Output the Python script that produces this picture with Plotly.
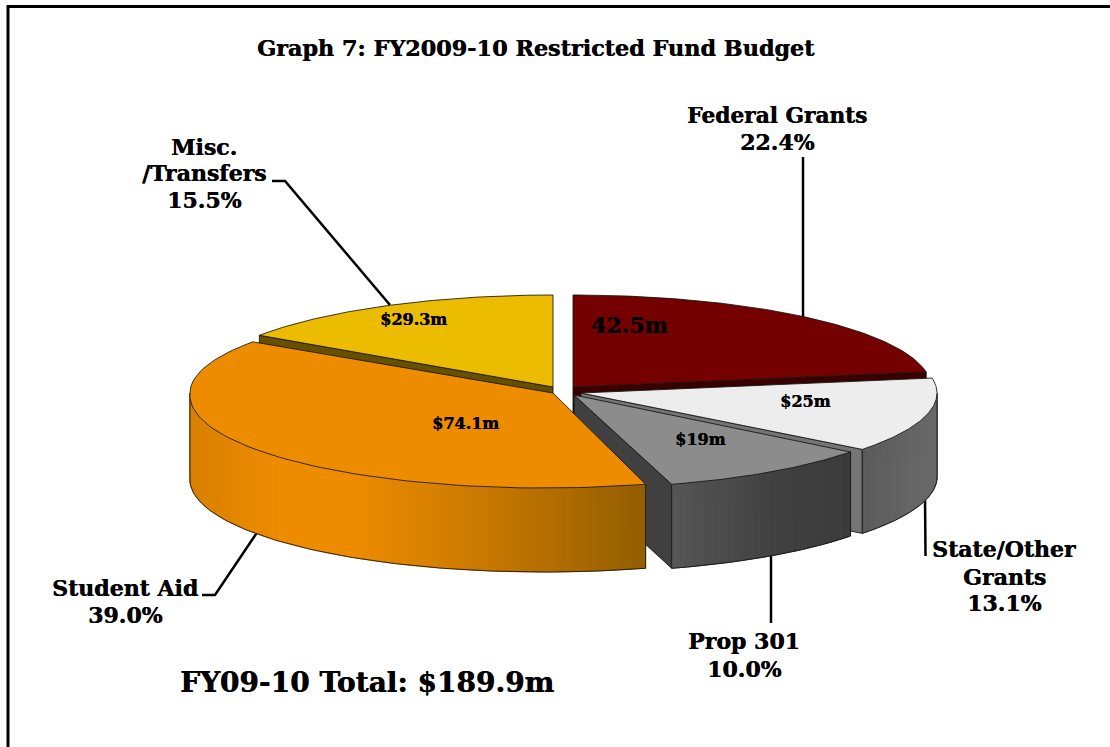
import math
import plotly.graph_objects as go

# ---- data ----
categories = ["Federal Grants", "State/Other Grants", "Prop 301", "Student Aid", "Misc. /Transfers"]
percent_values = [22.4, 13.1, 10.0, 39.0, 15.5]
amount_labels = ["42.5m", "$25m", "$19m", "$74.1m", "$29.3m"]
total_label = "FY09-10 Total: $189.9m"
chart_title = "Graph 7: FY2009-10 Restricted Fund Budget"

# ---- style / geometry of the projected pie ----
apex_x = [573, 581, 574, 553, 553]
apex_y = [387, 393, 395, 393, 387]
radius_x = [358, 356, 350, 363, 355]
radius_back = [92, 92, 93, 91, 92]
radius_front = [92, 92, 93, 95, 92]
shear = [0, 0, 0, 9, 0]
DEPTH = 84
top_color = ["#750000", "#ededed", "#8c8c8c", "#ee8c00", "#ecbc00"]
cut_color = ["#3a0000", "#757575", "#404040", "#a86200", "#665000"]
side_stops = [
    [(0, (0x6a, 0, 0)), (1, (0x50, 0, 0))],
    [(0, (0x5c, 0x5c, 0x5c)), (1, (0x6a, 0x6a, 0x6a))],
    [(0, (0x56, 0x56, 0x56)), (0.6, (0x40, 0x40, 0x40)), (1, (0x3c, 0x3c, 0x3c))],
    [(0, (0xd8, 0x80, 0x00)), (0.2, (0xee, 0x8c, 0x00)), (0.35, (0xee, 0x8c, 0x00)),
     (0.65, (0xc8, 0x78, 0x00)), (1, (0x92, 0x5e, 0x00))],
    [(0, (0x66, 0x50, 0)), (1, (0x66, 0x50, 0))],
]
EDGE = "rgba(20,20,20,0.85)"

total = sum(percent_values)
angles = [0.0]
for v in percent_values:
    angles.append(angles[-1] + v / total * 360.0)


def project(i, deg):
    """Map a rim angle (clockwise from 12 o'clock) of slice i to the page plane."""
    a = math.radians(deg)
    u, v = math.sin(a), -math.cos(a)
    ry = radius_front[i] if v > 0 else radius_back[i]
    return apex_x[i] + radius_x[i] * u - shear[i] * max(v, 0), apex_y[i] + ry * v


def rim(i, a0, a1, n=90):
    return [project(i, a0 + (a1 - a0) * k / n) for k in range(n + 1)]


def color_at(stops, t):
    for (t0, c0), (t1, c1) in zip(stops, stops[1:]):
        if t <= t1:
            f = (t - t0) / (t1 - t0)
            return "rgb(%d,%d,%d)" % tuple(round(c0[j] + (c1[j] - c0[j]) * f) for j in range(3))
    return "rgb(%d,%d,%d)" % stops[-1][1]


fig = go.Figure()


def poly(pts, fill, line=None, width=1):
    xs = [p[0] for p in pts] + [pts[0][0]]
    ys = [p[1] for p in pts] + [pts[0][1]]
    fig.add_trace(go.Scatter(x=xs, y=ys, mode="lines", fill="toself", fillcolor=fill,
                             line=dict(color=line or fill, width=width),
                             hoverinfo="skip", showlegend=False))


def line(pts, color="#000000", width=2.5):
    fig.add_trace(go.Scatter(x=[p[0] for p in pts], y=[p[1] for p in pts], mode="lines",
                             line=dict(color=color, width=width),
                             hoverinfo="skip", showlegend=False))


def cut_face(i, deg):
    ax, ay = apex_x[i], apex_y[i]
    rx, ry = project(i, deg)
    poly([(ax, ay), (rx, ry), (rx, ry + DEPTH), (ax, ay + DEPTH)], cut_color[i], EDGE, 1)


def side_wall(i):
    # only the front half of the wall faces the viewer
    a0 = max(angles[i], 90.0)
    a1 = min(angles[i + 1], 270.0)
    if a1 <= a0:
        return
    pts = rim(i, a0, a1, 80)
    xmin = min(p[0] for p in pts)
    xmax = max(p[0] for p in pts)
    for p, q in zip(pts, pts[1:]):
        t = ((p[0] + q[0]) / 2 - xmin) / (xmax - xmin)
        poly([p, q, (q[0], q[1] + DEPTH), (p[0], p[1] + DEPTH)], color_at(side_stops[i], t))
    # outlines: lower rim and end edges
    line([(p[0], p[1] + DEPTH) for p in pts], EDGE, 1)
    line([pts[0], (pts[0][0], pts[0][1] + DEPTH)], EDGE, 1)
    line([pts[-1], (pts[-1][0], pts[-1][1] + DEPTH)], EDGE, 1)


def top_face(i):
    poly([(apex_x[i], apex_y[i])] + rim(i, angles[i], angles[i + 1]), top_color[i], EDGE, 1)


# leader lines sit behind the pie
line([(272, 181), (285, 181), (390, 305)])
line([(803, 157), (803, 320)])
line([(925, 495), (925.5, 556)])
line([(771, 550), (771, 623)])
line([(260, 528), (215, 595), (202, 595)])

# back to front: Misc, Federal, State, Prop, Student Aid
cut_face(4, angles[4])
top_face(4)
cut_face(0, angles[1])
top_face(0)
cut_face(1, angles[2])
side_wall(1)
top_face(1)
cut_face(2, angles[3])
side_wall(2)
top_face(2)
side_wall(3)
top_face(3)

# ---- frame (left and top only; the other sides are cropped away) ----
line([(8, 748), (8, 6.5), (1111, 6.5)], "#000000", 3)

# ---- text ----
FONT = "DejaVu Serif"
texts = [
    (chart_title, 536, 48, 22.3),
    ("Federal Grants", 777, 115, 21.7),
    (f"{percent_values[0]}%", 777, 142, 22),
    ("Misc.", 204, 147, 22),
    ("/Transfers", 204, 173, 22),
    (f"{percent_values[4]}%", 204, 200, 22),
    ("State/Other", 1004, 549, 22),
    ("Grants", 1004, 577, 22),
    (f"{percent_values[1]}%", 1004, 603, 22),
    ("Prop 301", 744, 641, 22),
    (f"{percent_values[2]:.1f}%", 744, 669, 22),
    ("Student Aid", 125, 588, 22),
    (f"{percent_values[3]:.1f}%", 125, 615, 22),
    (total_label, 367, 682, 28),
    (amount_labels[0], 629, 325, 22),
    (amount_labels[1], 805, 401, 16),
    (amount_labels[2], 700, 439, 16),
    (amount_labels[3], 465, 423, 16),
    (amount_labels[4], 413, 319, 16),
]
for txt, x, y, size in texts:
    fig.add_annotation(x=x, y=y, text=f"<b>{txt}</b>", showarrow=False, xanchor="center", yanchor="middle",
                       font=dict(family=FONT, size=size, color="#000000", shadow="0.5px 0 0 #000000"))

fig.update_layout(
    width=1110, height=747, margin=dict(l=0, r=0, t=0, b=0),
    paper_bgcolor="#ffffff", plot_bgcolor="#ffffff", showlegend=False,
    xaxis=dict(range=[0, 1110], visible=False, fixedrange=True),
    yaxis=dict(range=[747, 0], visible=False, fixedrange=True),
)
fig.write_html("out.html", config={"displayModeBar": False},
               post_script="document.body.style.margin='0';document.body.style.overflow='hidden';")
